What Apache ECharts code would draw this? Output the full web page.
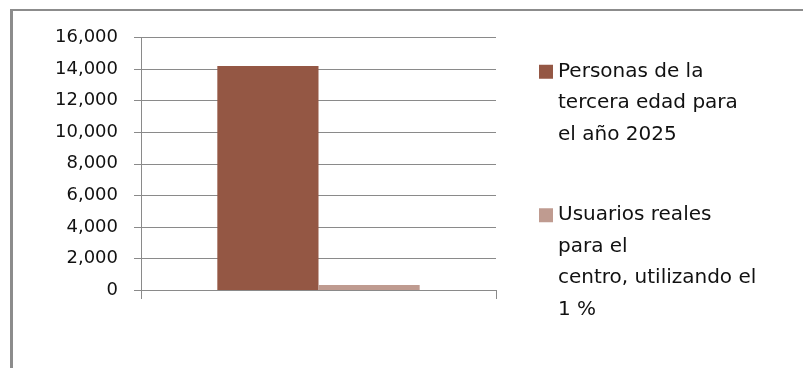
<!DOCTYPE html>
<html>
<head>
<meta charset="utf-8">
<script src="https://cdn.jsdelivr.net/npm/echarts@6/dist/echarts.min.js"></script>
<style>
    html, body { margin: 0; padding: 0; background: #fff; }
    #frame {
        position: absolute; left: 10px; top: 9px; width: 793px; height: 359px;
        border-left: 3px solid #8c8c8c; border-top: 2px solid #8c8c8c;
        box-sizing: border-box;
    }
    #chart { position: absolute; left: 0; top: 0; width: 803px; height: 368px; }
</style>
</head>
<body>
<div id="frame"></div>
<div id="chart"></div>
<script>
// 数据
const categories = [''];
const seriesNames = [
    'Personas de la\ntercera edad para\nel año 2025',
    'Usuarios reales\npara el\ncentro, utilizando el\n1 %'
];
const elderlyIn2025 = [14200];
const realUsers = [320];
const seriesColors = ['#945744', '#bf9b90'];

const axisGray = '#8a8a8a';
const labelFont = 'DejaVu Sans';

document.addEventListener('DOMContentLoaded', function () {
    const chart = echarts.init(document.getElementById('chart'));
    chart.setOption(getChartOptions());
});

// 图例：在前面补空行，让图标对齐第一行文字
function makeLegend(name, top) {
    const lineCount = name.split('\n').length;
    return {
        data: [name],
        orient: 'vertical',
        left: 539,
        top: top,
        padding: 0,
        itemWidth: 14,
        itemHeight: 14,
        icon: 'rect',
        formatter: function (n) {
            return '\n'.repeat(lineCount - 1) + n;
        },
        textStyle: {
            fontFamily: labelFont,
            fontSize: 20,
            color: '#111',
            lineHeight: 31.5
        }
    };
}

function getChartOptions() {
    return {
        animation: false,
        backgroundColor: 'transparent',
        legend: [
            makeLegend(seriesNames[0], -7),
            makeLegend(seriesNames[1], 105)
        ],
        grid: {
            left: 141,
            right: 307,
            top: 37.5,
            bottom: 78
        },
        xAxis: {
            type: 'category',
            data: categories,
            boundaryGap: true,
            axisLine: { show: true, lineStyle: { color: axisGray, width: 1 } },
            axisTick: { show: true, length: 9, lineStyle: { color: axisGray } },
            axisLabel: { show: false }
        },
        yAxis: {
            type: 'value',
            min: 0,
            max: 16000,
            interval: 2000,
            axisLine: { show: true, lineStyle: { color: axisGray, width: 1 } },
            axisTick: { show: true, length: 7, lineStyle: { color: axisGray } },
            axisLabel: {
                margin: 23,
                fontFamily: labelFont,
                fontSize: 18,
                color: '#111',
                formatter: function (v) { return v.toLocaleString('en-US'); }
            },
            splitLine: { lineStyle: { color: axisGray, width: 1 } }
        },
        series: [
            {
                name: seriesNames[0],
                type: 'bar',
                data: elderlyIn2025,
                barWidth: '28.5%',
                barGap: '0%',
                itemStyle: { color: seriesColors[0] }
            },
            {
                name: seriesNames[1],
                type: 'bar',
                data: realUsers,
                barWidth: '28.5%',
                barGap: '0%',
                itemStyle: { color: seriesColors[1] }
            }
        ]
    };
}
</script>
</body>
</html>
